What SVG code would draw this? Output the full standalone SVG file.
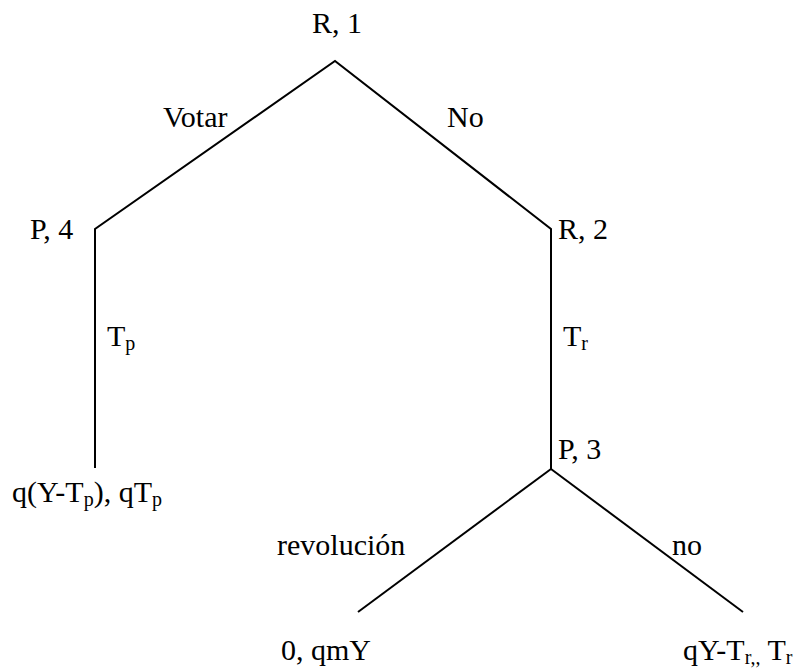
<svg xmlns="http://www.w3.org/2000/svg" width="811" height="670" viewBox="0 0 811 670">
<style>
text{font-family:"Liberation Serif","Times New Roman",serif;font-size:30px;fill:#000}
.s{font-size:20px}
.e{fill:none;stroke:#000;stroke-width:2;stroke-linecap:butt;stroke-linejoin:miter}
</style>
<rect width="811" height="670" fill="#fff"/>
<g id="connectors">
<polyline class="e" points="95,468 95,229 335,61 551,229 551,469"/>
<line class="e" x1="551" y1="469" x2="358" y2="612"/>
<line class="e" x1="551" y1="469" x2="743" y2="612"/>
</g>
<g id="edge-labels">
<text x="163" y="127">Votar</text>
<text x="447" y="127">No</text>
<text x="107" y="346">T<tspan class="s" dy="4">p</tspan></text>
<text x="563" y="346">T<tspan class="s" dy="4">r</tspan></text>
<text x="277" y="555">revolución</text>
<text x="672" y="555">no</text>
</g>
<g id="n1"><text x="312" y="33">R, 1</text></g>
<g id="n4"><text x="30" y="239">P, 4</text></g>
<g id="n2"><text x="558" y="239">R, 2</text></g>
<g id="n3"><text x="558" y="459">P, 3</text></g>
<g id="leaf-left"><text x="12" y="502">q(Y-T<tspan class="s" dy="4">p</tspan><tspan dy="-4">), qT</tspan><tspan class="s" dy="4">p</tspan></text></g>
<g id="leaf-mid"><text x="281" y="660">0, qmY</text></g>
<g id="leaf-right"><text x="683" y="660">qY-T<tspan class="s" dy="4">r,,</tspan><tspan dy="-4"> T</tspan><tspan class="s" dy="4">r</tspan></text></g>
</svg>
